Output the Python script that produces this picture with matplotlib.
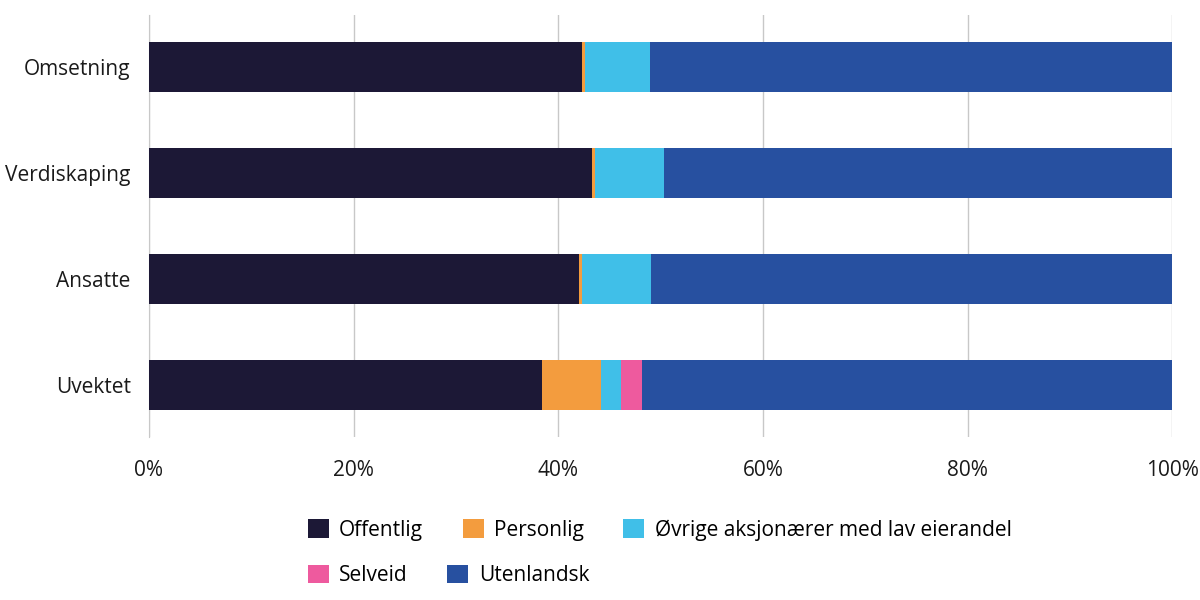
import numpy as np
import matplotlib.pyplot as plt
from matplotlib.patches import Patch

plt.rcParams['font.family'] = ['Open Sans', 'DejaVu Sans']

categories = ['Omsetning', 'Verdiskaping', 'Ansatte', 'Uvektet']
offentlig = [42.3, 43.3, 42.05, 38.4]
personlig = [0.35, 0.3, 0.3, 5.75]
ovrige = [6.3, 6.7, 6.7, 2.0]
selveid = [0.0, 0.0, 0.0, 2.0]
utenlandsk = [51.05, 49.7, 50.95, 51.85]

series = [
    ('Offentlig', offentlig, '#1c1836'),
    ('Personlig', personlig, '#f39c3e'),
    ('Øvrige aksjonærer med lav eierandel', ovrige, '#40bfe8'),
    ('Selveid', selveid, '#ee5a9e'),
    ('Utenlandsk', utenlandsk, '#2750a0'),
]

fig = plt.figure(figsize=(12, 6), dpi=100)
ax = fig.add_axes([0.124, 0.272, 0.853, 0.703])

y = np.arange(len(categories))
left = np.zeros(len(categories))
for name, vals, col in series:
    ax.barh(y, vals, left=left, height=0.47, color=col, label=name, zorder=3)
    left += np.array(vals)

ax.set_ylim(3.49, -0.49)
ax.set_xlim(0, 100)
ax.set_yticks(y)
ax.set_yticklabels(categories, fontsize=15)
ax.set_xticks(np.arange(0, 101, 20))
ax.set_xticklabels([f'{v}%' for v in range(0, 101, 20)], fontsize=15)
ax.tick_params(axis='both', length=0, colors='#1a1a1a')
ax.tick_params(axis='x', pad=17)
ax.tick_params(axis='y', pad=13)
ax.grid(axis='x', color='#c8c8c8', linewidth=1, zorder=0)
for s in ['top', 'right', 'bottom']:
    ax.spines[s].set_visible(False)
ax.spines['left'].set_color('#c8c8c8')

handles = [Patch(facecolor=c, edgecolor='none') for _, _, c in series]
labels = [n for n, _, _ in series]
common = dict(frameon=False, fontsize=15, handlelength=1.0, handleheight=1.0,
              handletextpad=0.5, columnspacing=1.9, loc='upper left')
fig.legend(handles[:3], labels[:3], ncol=3, bbox_to_anchor=(0.241, 0.166), **common)
fig.legend(handles[3:], labels[3:], ncol=2, bbox_to_anchor=(0.241, 0.090), **common)

fig.savefig('out.png', dpi=100)
